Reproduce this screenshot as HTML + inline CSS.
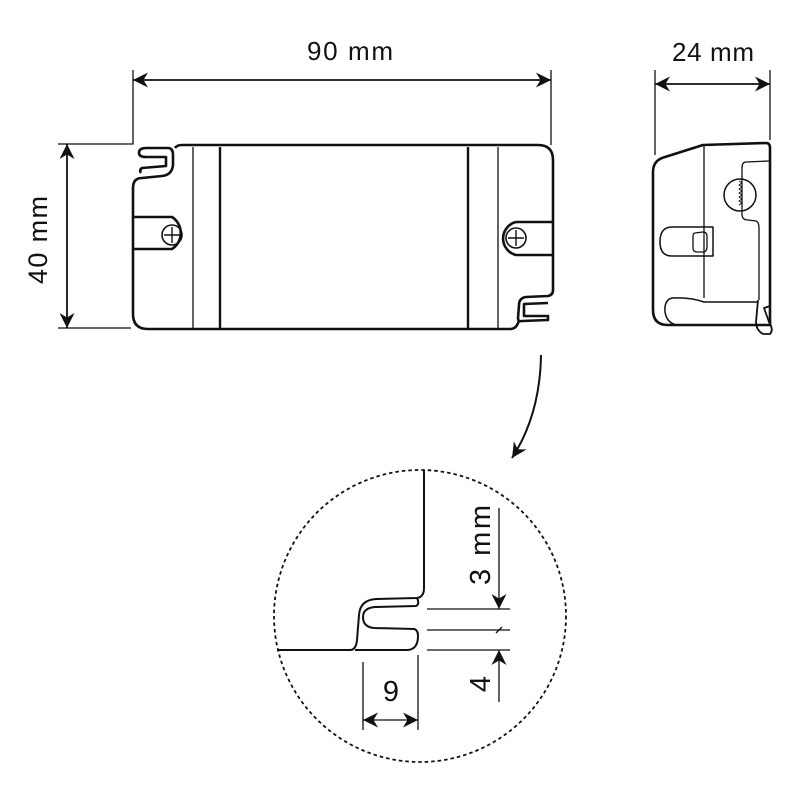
<!DOCTYPE html>
<html><head><meta charset="utf-8"><style>body{margin:0;background:#fff}svg{display:block}text{font-family:"Liberation Sans",sans-serif;fill:#111}</style></head><body>
<svg width="800" height="800" viewBox="0 0 800 800" xmlns="http://www.w3.org/2000/svg">
<defs>
<marker id="b" viewBox="0 0 10 10" refX="10" refY="5" markerWidth="15" markerHeight="15" orient="auto-start-reverse" markerUnits="userSpaceOnUse"><path d="M0,0 L10,5 L0,10 L3,5 Z" fill="#111"/></marker>
</defs>
<g stroke="#111" fill="none" stroke-width="1.3">
<polyline points="58,144 133,144 133,70"/>
<line x1="551" y1="70" x2="551" y2="145"/>
<line x1="58" y1="328" x2="131" y2="328"/>
<line x1="133" y1="80" x2="551" y2="80" marker-start="url(#b)" marker-end="url(#b)" stroke-width="1.8"/>
<line x1="67" y1="144" x2="67" y2="328" marker-start="url(#b)" marker-end="url(#b)" stroke-width="1.8"/>
<line x1="655" y1="70" x2="655" y2="155"/>
<line x1="770" y1="70" x2="770" y2="140"/>
<line x1="655" y1="84" x2="770" y2="84" marker-start="url(#b)" marker-end="url(#b)" stroke-width="1.8"/>
</g>
<text x="350" y="60" font-size="26" text-anchor="middle" textLength="86">90 mm</text>
<text x="713" y="61" font-size="26" text-anchor="middle" textLength="82">24 mm</text>
<text transform="translate(47,240) rotate(-90)" font-size="27" text-anchor="middle" textLength="88">40 mm</text>

<g stroke="#111" fill="none" stroke-width="2.6" stroke-linejoin="round">
<path d="M175,148 Q177,145 182,145 L538,145 Q553,145 553,160 L553,290 Q553,295 548,296 L526,297 Q519,298 519,305 L518,318 Q518,322 522,321 L548,320 L548,316 L524,316 L524,304 L548,303 M519,320 Q517,329 510,329 L148,329 Q133,329 133,314 L133,188 Q133,178 142,178 L162,176 Q172,175 173,165 L173,155 Q173,148 168,148 L146,148 Q139,148 139,153 Q139,157 146,157 L166,157 L166,166 L142,168 Q139,170 141,173"/>
<path d="M133,217 L172,217 A19,19 0 0 1 172,249 L133,249"/>
<path d="M553,222 L516,222 A17,17 0 0 0 516,255 L553,255"/>
</g>
<g stroke="#111" fill="none">
<line x1="193" y1="147" x2="193" y2="328" stroke-width="1.3"/>
<line x1="220" y1="147" x2="220" y2="328" stroke-width="2.4"/>
<line x1="468" y1="147" x2="468" y2="328" stroke-width="2.4"/>
<line x1="498" y1="147" x2="498" y2="328" stroke-width="1.3"/>
<circle cx="172" cy="235" r="10" stroke-width="1.6"/>
<path d="M164,235 H180 M172,227 V243" stroke-width="1.4"/>
<circle cx="516" cy="238" r="10" stroke-width="1.6"/>
<path d="M508,238 H524 M516,230 V246" stroke-width="1.4"/>
</g>

<g stroke="#111" fill="none" stroke-linejoin="round">
<path d="M653,172 Q653,160 665,157 L703,145 L766,143 Q770,143 770,148 L770,312 L770,325 L668,325 Q653,325 653,310 Z" stroke-width="2.6"/>
<line x1="704" y1="146" x2="704" y2="298" stroke-width="1.3"/>
<path d="M769,161 L746,162 Q742,162 742,168 L742,214 Q742,220 748,220 L756,221 Q759,222 759,228 L759,300" stroke-width="1.3"/>
<circle cx="740" cy="195" r="16" stroke-width="1.5"/>
<path d="M739,181 l3,2 -3,2 3,2 -3,2 3,2 -3,2 3,2 -3,2 3,2 -3,2 3,2 -3,2" stroke-width="1"/>
<path d="M713,227 L672,227 Q660,227 660,242 Q660,256 672,256 L713,256 Z" stroke-width="1.5"/>
<path d="M695,233 Q693,233 693,237 L693,248 Q693,252 697,252 L704,252 Q707,251 707,247 L707,236 Q707,232 703,232 Z" stroke-width="1.3"/>
<path d="M757,302 L704,302 Q690,297 672,298 Q664,300 665,312 Q667,324 678,325" stroke-width="1.5"/>
<path d="M758,300 L756,322 Q756,330 763,334 L770,334 Q774,330 769,322 L764,308 L770,306" stroke-width="1.8"/>
</g>

<path d="M541,355 Q540,415 512,458" stroke="#111" stroke-width="2" fill="none" marker-end="url(#b)"/>

<circle cx="420" cy="616" r="146" stroke="#111" stroke-width="1.8" fill="none" stroke-dasharray="3.5,3"/>
<g stroke="#111" fill="none" stroke-linejoin="round">
<path d="M424,470 L424,588 Q424,597 417,598 L376,599 Q360,600 359,615 L357,640 Q356,650 350,650 L277,650" stroke-width="2"/>
<path d="M417,598 Q420,604 416,606 L375,607 Q363,608 363,617 Q363,627 374,628 L414,629 Q418,630 418,636 Q418,649 408,650 L355,650" stroke-width="2"/>
<g stroke-width="1.3">
<line x1="427" y1="609" x2="510" y2="609"/>
<line x1="427" y1="630" x2="510" y2="630"/>
<line x1="427" y1="650" x2="510" y2="650"/>
<line x1="499" y1="508" x2="499" y2="609" marker-end="url(#b)"/>
<line x1="499" y1="702" x2="499" y2="650" marker-end="url(#b)"/>
<line x1="496" y1="633" x2="502" y2="627"/>
<line x1="363" y1="662" x2="363" y2="730"/>
<line x1="418" y1="655" x2="418" y2="730"/>
<line x1="363" y1="720" x2="418" y2="720" marker-start="url(#b)" marker-end="url(#b)"/>
</g>
</g>
<text transform="translate(490,545) rotate(-90)" font-size="29" text-anchor="middle" textLength="80">3 mm</text>
<text transform="translate(490,684) rotate(-90)" font-size="29" text-anchor="middle">4</text>
<text x="391" y="701" font-size="29" text-anchor="middle">9</text>
</svg>
</body></html>
